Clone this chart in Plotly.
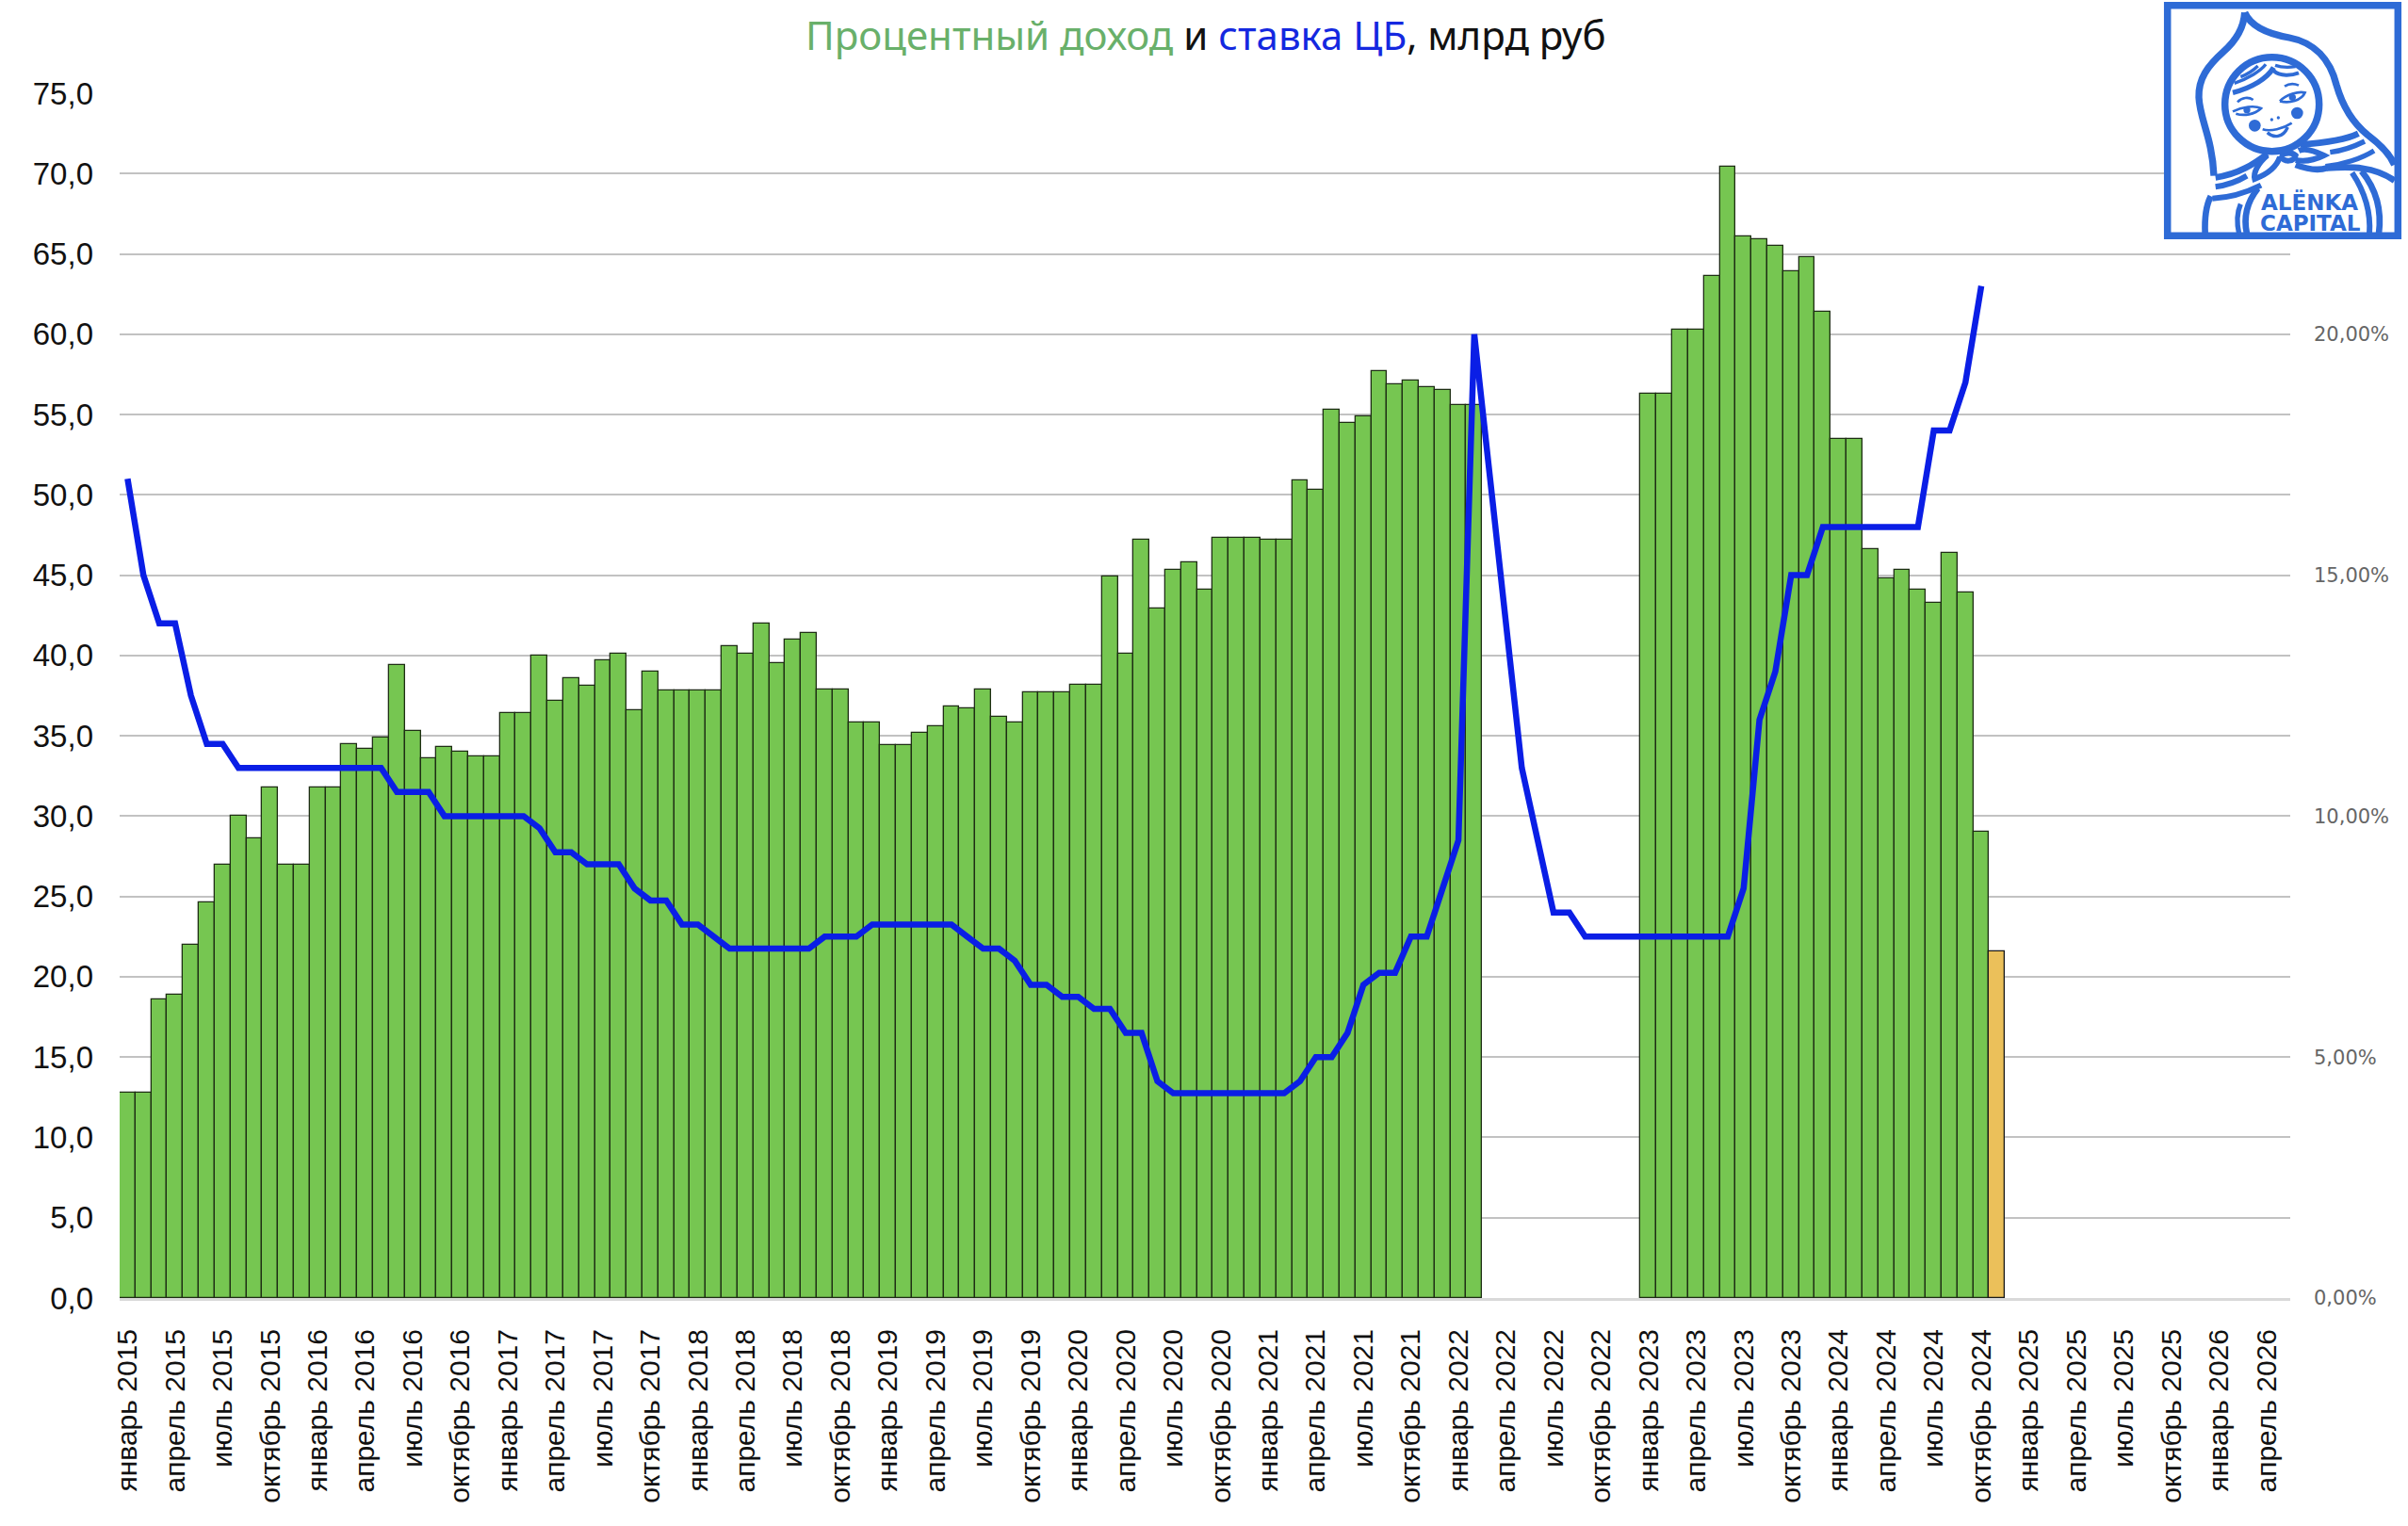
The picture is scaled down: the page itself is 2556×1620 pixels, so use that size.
import plotly.graph_objects as go

MONTHS = ["январь", "февраль", "март", "апрель", "май", "июнь", "июль", "август",
          "сентябрь", "октябрь", "ноябрь", "декабрь"]
YEARS = list(range(2015, 2027))
categories = [f"{m} {y}" for y in YEARS for m in MONTHS][:137]
tick_labels = categories[::3]

income = [
    12.8, 12.8, 18.6, 18.9, 22.0, 24.6, 27.0, 30.0, 28.6, 31.8, 27.0, 27.0,
    31.8, 31.8, 34.5, 34.2, 34.9, 39.4, 35.3, 33.6, 34.3, 34.0, 33.7, 33.7,
    36.4, 36.4, 40.0, 37.2, 38.6, 38.1, 39.7, 40.1, 36.6, 39.0, 37.8, 37.8,
    37.8, 37.8, 40.6, 40.1, 42.0, 39.5, 41.0, 41.4, 37.9, 37.9, 35.8, 35.8,
    34.4, 34.4, 35.2, 35.6, 36.8, 36.7, 37.9, 36.2, 35.8, 37.7, 37.7, 37.7,
    38.2, 38.2, 44.9, 40.1, 47.2, 42.9, 45.3, 45.8, 44.1, 47.3, 47.3, 47.3,
    47.2, 47.2, 50.9, 50.3, 55.3, 54.5, 54.9, 57.7, 56.9, 57.1, 56.7, 56.5,
    55.6, 55.6, None, None, None, None, None, None, None, None, None, None,
    56.3, 56.3, 60.3, 60.3, 63.6, 70.4, 66.1, 65.9, 65.5, 63.9, 64.8, 61.4,
    53.5, 53.5, 46.6, 44.8, 45.3, 44.1, 43.3, 46.4, 43.9, 29.0,
]
estimate_categories = ["ноябрь 2024"]
estimate_values = [21.6]

key_rate = [
    17, 15, 14, 14, 12.5, 11.5, 11.5, 11, 11, 11, 11, 11,
    11, 11, 11, 11, 11, 10.5, 10.5, 10.5, 10, 10, 10, 10,
    10, 10, 9.75, 9.25, 9.25, 9, 9, 9, 8.5, 8.25, 8.25, 7.75,
    7.75, 7.5, 7.25, 7.25, 7.25, 7.25, 7.25, 7.25, 7.5, 7.5, 7.5, 7.75,
    7.75, 7.75, 7.75, 7.75, 7.75, 7.5, 7.25, 7.25, 7, 6.5, 6.5, 6.25,
    6.25, 6, 6, 5.5, 5.5, 4.5, 4.25, 4.25, 4.25, 4.25, 4.25, 4.25,
    4.25, 4.25, 4.5, 5, 5, 5.5, 6.5, 6.75, 6.75, 7.5, 7.5, 8.5,
    9.5, 20, 17, 14, 11, 9.5, 8, 8, 7.5, 7.5, 7.5, 7.5,
    7.5, 7.5, 7.5, 7.5, 7.5, 7.5, 8.5, 12, 13, 15, 15, 16,
    16, 16, 16, 16, 16, 16, 18, 18, 19, 21,
]

W, H = 2556, 1620
L, R, T, B = 127, 2431, 99, 1378

fig = go.Figure()
fig.add_bar(x=categories[:len(income)], y=income, marker=dict(color="#76C651", line=dict(color="#1E2E14", width=1.3)))
fig.add_bar(x=estimate_categories, y=estimate_values, marker=dict(color="#EBC05A", line=dict(color="#1A1A1A", width=1.3)))
fig.add_scatter(x=categories[:len(key_rate)], y=key_rate, yaxis="y2", mode="lines",
                line=dict(color="#0A1EE6", width=6.5), connectgaps=True)


def zx(v):
    return (2250 + v / 3 - L) / (R - L)


def zy(v):
    return (B - v / 3) / (B - T)


def path(cmds):
    out = []
    for c in cmds:
        cmd = c[0]
        nums = c[1:]
        pts = []
        for i in range(0, len(nums), 2):
            pts.append(f"{zx(nums[i]):.5f},{zy(nums[i + 1]):.5f}")
        out.append(cmd + " " + " ".join(pts))
    return " ".join(out)


LOGO = "#2E6BD6"
logo_strokes = [
    (22, [("M", 398, 40), ("C", 395, 90, 370, 130, 330, 165), ("C", 280, 210, 250, 250, 252, 310),
          ("C", 255, 380, 295, 440, 300, 560)]),
    (22, [("M", 398, 40), ("C", 420, 90, 480, 110, 540, 120), ("C", 620, 135, 670, 190, 690, 270),
          ("C", 710, 340, 740, 390, 790, 430), ("C", 830, 460, 860, 490, 875, 525)]),
    (16, [("M", 360, 295), ("C", 420, 280, 470, 250, 490, 215)]),
    (10, [("M", 365, 265), ("C", 410, 250, 450, 225, 465, 205)]),
    (10, [("M", 385, 245), ("C", 410, 235, 430, 220, 440, 210)]),
    (12, [("M", 490, 225), ("C", 510, 245, 550, 240, 570, 232)]),
    (10, [("M", 495, 208), ("C", 515, 215, 540, 215, 560, 212)]),
    (8, [("M", 375, 325), ("C", 390, 310, 410, 308, 425, 318)]),
    (8, [("M", 360, 355), ("C", 390, 340, 430, 335, 450, 345), ("C", 430, 365, 395, 370, 370, 362)]),
    (8, [("M", 525, 275), ("C", 540, 265, 555, 265, 570, 272)]),
    (8, [("M", 510, 322), ("C", 530, 300, 570, 290, 590, 295), ("C", 580, 320, 540, 330, 510, 322)]),
    (8, [("M", 455, 412), ("C", 480, 420, 520, 410, 548, 392)]),
    (10, [("M", 470, 422), ("C", 490, 440, 520, 440, 535, 405)]),
    (20, [("M", 305, 565), ("C", 380, 555, 430, 520, 470, 490)]),
    (18, [("M", 305, 595), ("C", 340, 590, 380, 575, 405, 560)]),
    (18, [("M", 295, 632), ("C", 350, 630, 410, 610, 450, 590)]),
    (20, [("M", 575, 460), ("C", 650, 455, 720, 445, 760, 425)]),
    (16, [("M", 670, 485), ("C", 710, 480, 750, 465, 780, 450)]),
    (16, [("M", 655, 530), ("C", 710, 525, 770, 505, 810, 480)]),
    (18, [("M", 470, 495), ("C", 440, 520, 425, 550, 430, 570), ("C", 470, 555, 500, 530, 510, 500)]),
    (18, [("M", 570, 480), ("C", 590, 470, 620, 480, 650, 495), ("C", 620, 510, 585, 515, 560, 510)]),
    (18, [("M", 510, 495), ("C", 530, 485, 550, 485, 560, 495), ("C", 555, 515, 525, 520, 510, 495)]),
    (20, [("M", 660, 535), ("C", 740, 530, 810, 530, 875, 575)]),
    (20, [("M", 560, 525), ("C", 600, 540, 630, 545, 660, 535)]),
    (20, [("M", 272, 745), ("C", 270, 700, 272, 660, 290, 625)]),
    (16, [("M", 380, 745), ("C", 372, 710, 372, 680, 385, 650)]),
    (20, [("M", 405, 745), ("C", 395, 700, 400, 650, 440, 600)]),
    (18, [("M", 795, 745), ("C", 800, 680, 780, 610, 740, 550)]),
    (20, [("M", 825, 745), ("C", 835, 670, 815, 600, 770, 545)]),
]
shapes = [dict(type="rect", xref="paper", yref="paper",
               x0=(2300.7 - L) / (R - L), x1=(2545.3 - L) / (R - L),
               y0=(B - 5.7) / (B - T), y1=(B - 250.3) / (B - T),
               line=dict(color=LOGO, width=7.5), fillcolor="white", layer="above")]
for width, cmds in logo_strokes:
    shapes.append(dict(type="path", xref="paper", yref="paper", path=path(cmds),
                       line=dict(color=LOGO, width=width / 3), layer="above"))
shapes.append(dict(type="circle", xref="paper", yref="paper",
                   x0=zx(335), x1=zx(635), y0=zy(182), y1=zy(482),
                   line=dict(color=LOGO, width=7.5), layer="above"))
for cx, cy, r in [(430, 400, 19), (565, 360, 19), (484, 381, 5), (505, 375, 5), (405, 350, 11), (550, 310, 11)]:
    shapes.append(dict(type="circle", xref="paper", yref="paper",
                       x0=zx(cx - r), x1=zx(cx + r), y0=zy(cy - r), y1=zy(cy + r),
                       line=dict(width=0), fillcolor=LOGO, layer="above"))

annotations = [
    dict(xref="paper", yref="paper", x=(1280 - L) / (R - L), y=(B - 36) / (B - T),
         xanchor="center", yanchor="middle", showarrow=False,
         font=dict(family="Noto Sans", size=42, color="#111111"),
         text="<span style='color:#69B06A'>Процентный доход</span> и "
              "<span style='color:#1428E0'>ставка ЦБ</span>, млрд руб"),
    dict(xref="paper", yref="paper", x=zx(603), y=zy(642), xanchor="center", yanchor="middle",
         showarrow=False, font=dict(family="DejaVu Sans", size=23, color=LOGO),
         text="<b>ALËNKA</b>"),
    dict(xref="paper", yref="paper", x=zx(608), y=zy(712), xanchor="center", yanchor="middle",
         showarrow=False, font=dict(family="DejaVu Sans", size=23, color=LOGO),
         text="<b>CAPITAL</b>"),
]

fig.update_layout(
    width=W, height=H, showlegend=False, plot_bgcolor="white", paper_bgcolor="white",
    barmode="overlay", bargap=0, separators=", ",
    margin=dict(l=L, r=W - R, t=T, b=H - B, autoexpand=False),
    shapes=shapes, annotations=annotations,
    xaxis=dict(type="category", categoryorder="array", categoryarray=categories,
               range=[-0.5, 136.5], tickmode="array", tickvals=tick_labels, ticktext=tick_labels,
               tickangle=-90, ticks="", showgrid=False, showline=True, linecolor="#D9D9D9", linewidth=3,
               zeroline=False, ticklabelstandoff=18,
               tickfont=dict(family="Liberation Sans", size=30, color="#111111")),
    yaxis=dict(range=[0, 75], dtick=5, tickformat=".1f", showgrid=True, gridcolor="#C2C2C2", gridwidth=1.5,
               zeroline=False, ticks="", ticklabelstandoff=27,
               tickfont=dict(family="Liberation Sans", size=33, color="#111111")),
    yaxis2=dict(range=[0, 25], dtick=5, overlaying="y", side="right", tickformat=".2f", ticksuffix="%",
                showgrid=False, zeroline=False, ticks="", ticklabelstandoff=24,
                tickfont=dict(family="DejaVu Sans", size=21, color="#666666")),
)

fig.write_html("out.html", config=dict(displayModeBar=False), post_script="document.body.style.margin='0';")
